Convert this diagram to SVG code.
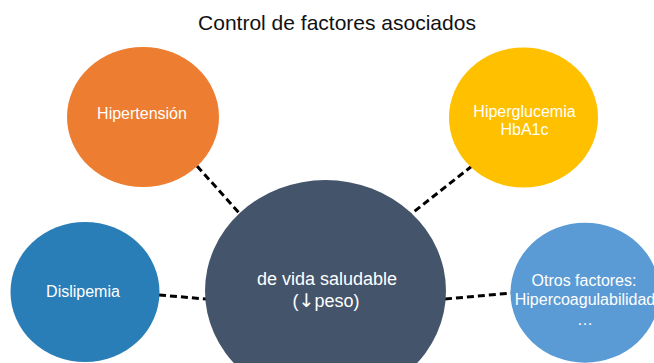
<svg xmlns="http://www.w3.org/2000/svg" width="654" height="363" viewBox="0 0 654 363">
<style>
.t{font-family:"Liberation Sans",Arial,sans-serif;fill:#ffffff;text-anchor:middle;font-size:16px}
.c{stroke:#000;stroke-width:3;stroke-dasharray:7 4;fill:none}
</style>
<rect width="654" height="363" fill="#ffffff"/>
<text x="337" y="30" style="font-family:'Liberation Sans',Arial,sans-serif;font-size:21px;fill:#111;text-anchor:middle">Control de factores asociados</text>
<g id="connectors">
<line class="c" x1="197" y1="166" x2="241" y2="215"/>
<line class="c" x1="472" y1="166" x2="411" y2="214"/>
<line class="c" x1="159" y1="295" x2="206" y2="299"/>
<line class="c" x1="445" y1="299" x2="512" y2="293"/>
</g>
<g id="hipertension">
<ellipse cx="143" cy="117" rx="76" ry="70" fill="#ED7D31"/>
<text class="t" x="142" y="119">Hipertensión</text>
</g>
<g id="hiperglucemia">
<ellipse cx="523.5" cy="117.5" rx="74.5" ry="70" fill="#FFC000"/>
<text class="t" x="524.5" y="117">Hiperglucemia</text>
<text class="t" x="524.5" y="135">HbA1c</text>
</g>
<g id="dislipemia">
<ellipse cx="85" cy="292" rx="74.5" ry="70" fill="#2A7EB7"/>
<text class="t" x="83" y="297">Dislipemia</text>
</g>
<g id="otros">
<ellipse cx="585" cy="292.7" rx="74.5" ry="70" fill="#5B9BD5"/>
<text class="t" x="584" y="286">Otros factores:</text>
<text class="t" x="585" y="305">Hipercoagulabilidad</text>
<text class="t" x="585" y="325">…</text>
</g>
<g id="estilo">
<ellipse cx="325.5" cy="291" rx="120.5" ry="111" fill="#44546A"/>
<text class="t" x="327" y="285" style="font-size:18px">de vida saludable</text>
<text class="t" x="326" y="307" style="font-size:18px">(<tspan style="font-family:'DejaVu Sans',sans-serif;font-size:19px">↓</tspan>peso)</text>
</g>
</svg>
